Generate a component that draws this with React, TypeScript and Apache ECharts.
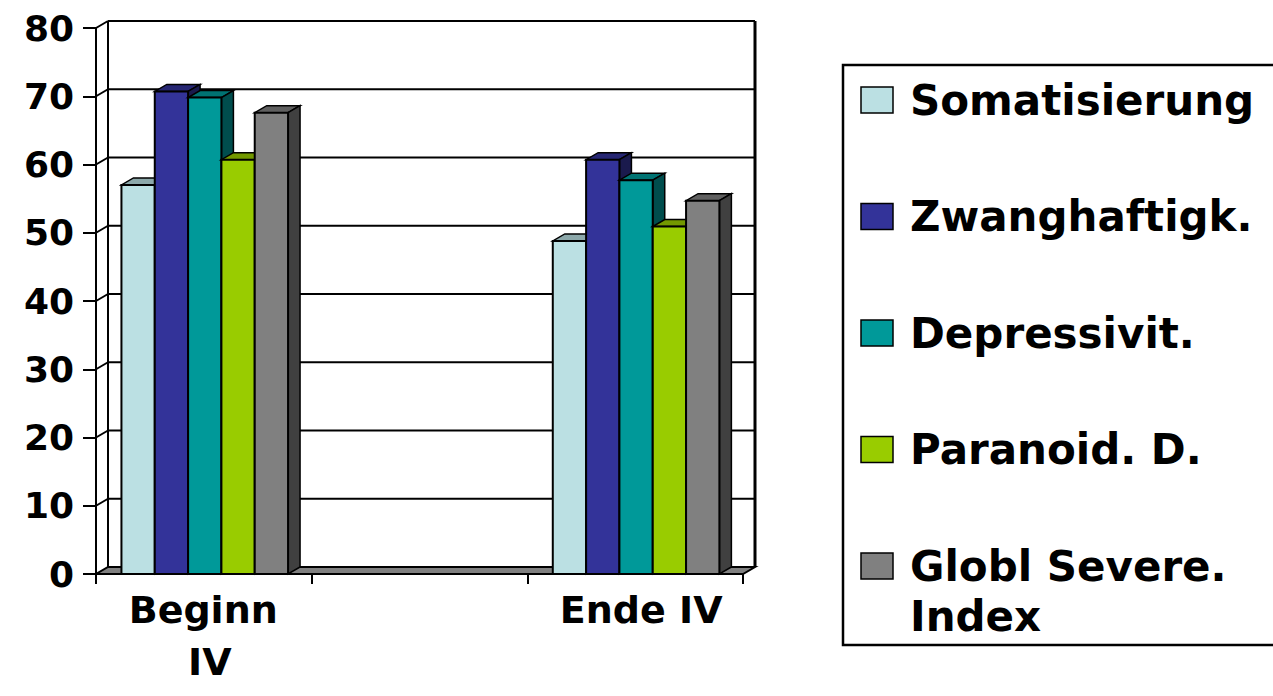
import { useEffect, useRef } from "react";
import * as echarts from "echarts";

// ---- data ----
const categories = ["Beginn IV", "", "Ende IV"];
const yTicks = [0, 10, 20, 30, 40, 50, 60, 70, 80];
const seriesNames = [
  "Somatisierung",
  "Zwanghaftigk.",
  "Depressivit.",
  "Paranoid. D.",
  "Globl Severe. Index",
];
const somatisierung = [57, null, 48.8];
const zwanghaftigkeit = [70.7, null, 60.7];
const depressivitaet = [69.8, null, 57.7];
const paranoid = [60.7, null, 50.9];
const globalSeverity = [67.6, null, 54.7];
const seriesValues = [somatisierung, zwanghaftigkeit, depressivitaet, paranoid, globalSeverity];

// ---- styles ----
const frontColors = ["#BBE0E3", "#333399", "#009999", "#99CC00", "#808080"];
const topColors = ["#8CA8AA", "#262673", "#007373", "#739900", "#606060"];
const sideColors = ["#5E7072", "#1A1A4D", "#004D4D", "#4D6600", "#404040"];
const FONT = '"DejaVu Sans", "Liberation Sans", Arial, sans-serif';
const DX = 12;
const DY = -7;
const GROUP_OFFSET = 0.118;
const BAR_FRAC = 0.1545;

export default function App() {
  const ref = useRef<HTMLDivElement>(null);

  useEffect(() => {
    if (!ref.current) return;
    const chart = echarts.init(ref.current, undefined, { renderer: "svg" });

    const frameSeries: any = {
      type: "custom",
      name: "frame",
      silent: true,
      z: 1,
      data: [[0, 0]],
      renderItem: (params: any, api: any) => {
        const cs = params.coordSys;
        const x = cs.x;
        const w = cs.width;
        const children: any[] = [];
        const yb = api.coord([0, yTicks[0]])[1];
        const yt = api.coord([0, yTicks[yTicks.length - 1]])[1];
        // floor
        children.push({
          type: "polygon",
          shape: { points: [[x, yb], [x + w, yb], [x + w + DX, yb + DY], [x + DX, yb + DY]] },
          style: { fill: "#808080", stroke: "#000", lineWidth: 2 },
        });
        yTicks.forEach((v) => {
          const y = api.coord([0, v])[1];
          if (v !== yTicks[0]) {
            children.push({
              type: "line",
              shape: { x1: x + DX, y1: y + DY, x2: x + w + DX, y2: y + DY },
              style: { stroke: "#000", lineWidth: 2 },
            });
            children.push({
              type: "line",
              shape: { x1: x, y1: y, x2: x + DX, y2: y + DY },
              style: { stroke: "#000", lineWidth: 2 },
            });
          }
        });
        // back wall left & right edges
        children.push({
          type: "line",
          shape: { x1: x + DX, y1: yt + DY, x2: x + DX, y2: yb + DY },
          style: { stroke: "#000", lineWidth: 2 },
        });
        children.push({
          type: "line",
          shape: { x1: x + w + DX, y1: yt + DY, x2: x + w + DX, y2: yb + DY },
          style: { stroke: "#000", lineWidth: 3 },
        });
        return { type: "group", children };
      },
    };

    const barSeries = seriesValues.map((vals, s) => ({
      type: "custom",
      name: seriesNames[s],
      z: 2,
      data: vals
        .map((v, i) => [i, v])
        .filter((d) => d[1] !== null && d[1] !== undefined),
      renderItem: (_params: any, api: any) => {
        const cat = api.value(0);
        const val = api.value(1);
        const top = api.coord([cat, val]);
        const base = api.coord([cat, 0]);
        const band = api.size([1, 0])[0];
        const bw = band * BAR_FRAC;
        const x0 = top[0] - band / 2 + band * GROUP_OFFSET + s * bw;
        const x1 = x0 + bw;
        const yT = top[1];
        const yB = base[1];
        return {
          type: "group",
          children: [
            {
              type: "polygon",
              shape: { points: [[x0, yT], [x1, yT], [x1 + DX, yT + DY], [x0 + DX, yT + DY]] },
              style: { fill: topColors[s], stroke: "#000", lineWidth: 1.5 },
            },
            {
              type: "polygon",
              shape: { points: [[x1, yT], [x1 + DX, yT + DY], [x1 + DX, yB + DY], [x1, yB]] },
              style: { fill: sideColors[s], stroke: "#000", lineWidth: 1.5 },
            },
            {
              type: "rect",
              shape: { x: x0, y: yT, width: bw, height: yB - yT },
              style: { fill: frontColors[s], stroke: "#000", lineWidth: 2 },
            },
          ],
        };
      },
    }));

    // legend drawn as graphic
    const legendTop = 100;
    const legendStep = 116.5;
    const legendEls: any[] = [
      {
        type: "rect",
        shape: { x: 843, y: 65, width: 470, height: 580 },
        style: { fill: "none", stroke: "#000", lineWidth: 2.5 },
        z: 10,
      },
    ];
    seriesNames.forEach((name, i) => {
      const yc = legendTop + i * legendStep;
      legendEls.push({
        type: "rect",
        shape: { x: 861, y: yc - 13, width: 32, height: 26 },
        style: { fill: frontColors[i], stroke: "#000", lineWidth: 1.5 },
        z: 10,
      });
      const parts = name === "Globl Severe. Index" ? "Globl Severe.\nIndex" : name;
      legendEls.push({
        type: "text",
        x: 910,
        y: yc - 25,
        z: 10,
        style: {
          text: parts,
          fill: "#000",
          font: `bold 42px ${FONT}`,
          lineHeight: 50,
          verticalAlign: "top",
          align: "left",
        },
      });
    });

    chart.setOption({
      animation: false,
      backgroundColor: "#fff",
      grid: {
        left: 96,
        top: 28,
        width: 647,
        height: 546,
        containLabel: false,
        outerBoundsMode: "none",
      },
      xAxis: {
        type: "category",
        data: categories,
        boundaryGap: true,
        axisLine: { show: true, lineStyle: { color: "#000", width: 2 } },
        axisTick: { show: true, length: 10, lineStyle: { color: "#000", width: 2 } },
        splitLine: { show: false },
        axisLabel: {
          interval: 0,
          color: "#000",
          fontFamily: FONT,
          fontWeight: "bold",
          fontSize: 38,
          lineHeight: 52,
          margin: 10,
          width: 200,
          overflow: "break",
          padding: [0, 0, 0, 12],
        },
      },
      yAxis: {
        type: "value",
        min: 0,
        max: 80,
        interval: 10,
        axisLine: { show: true, lineStyle: { color: "#000", width: 2 } },
        axisTick: { show: true, length: 13, lineStyle: { color: "#000", width: 2 } },
        splitLine: { show: false },
        axisLabel: {
          color: "#000",
          fontFamily: FONT,
          fontWeight: "bold",
          fontSize: 36,
          margin: 22,
        },
      },
      series: [frameSeries, ...barSeries],
      graphic: { elements: legendEls },
    });

    return () => chart.dispose();
  }, []);

  return (
    <div
      ref={ref}
      style={{ position: "absolute", left: 0, top: 0, width: 1273, height: 696 }}
    />
  );
}
